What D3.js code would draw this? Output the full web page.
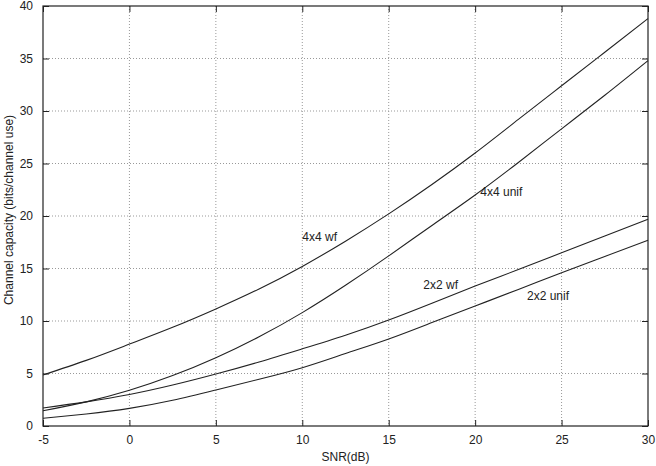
<!DOCTYPE html>
<html>
<head>
<meta charset="utf-8">
<script src="https://cdn.jsdelivr.net/npm/d3@7"></script>
<style>
  body { margin: 0; background: #fff; }
  svg text { font-family: "Liberation Sans", Arial, sans-serif; font-size: 12px; fill: #222; }
</style>
</head>
<body>
<div id="chart"></div>
<script>
// SNR grid (dB) and read-off capacities (bits/channel use)
const snr = [-5, -2.5, 0, 2.5, 5, 7.5, 10, 12.5, 15, 17.5, 20, 22.5, 25, 27.5, 30];
const cap4x4wf   = [4.86, 6.25, 7.8, 9.4, 11.15, 13.05, 15.2, 17.6, 20.2, 23.0, 26.0, 29.2, 32.4, 35.6, 38.8];
const cap4x4unif = [1.45, 2.3, 3.4, 4.8, 6.5, 8.5, 10.8, 13.4, 16.2, 19.1, 22.0, 25.1, 28.3, 31.5, 34.8];
const cap2x2wf   = [1.72, 2.3, 3.0, 3.9, 4.95, 6.1, 7.35, 8.65, 10.1, 11.7, 13.33, 14.9, 16.5, 18.1, 19.7];
const cap2x2unif = [0.73, 1.15, 1.68, 2.45, 3.43, 4.45, 5.55, 6.9, 8.29, 9.85, 11.43, 13.0, 14.6, 16.15, 17.7];

const seriesNames = ["4x4 wf", "4x4 unif", "2x2 wf", "2x2 unif"];
// label anchor in data units [snr, capacity]
const labelAt = [[10.0, 17.6], [20.3, 21.9], [17.0, 13.05], [23.0, 12.0]];

const xTicks = [-5, 0, 5, 10, 15, 20, 25, 30];
const yTicks = [0, 5, 10, 15, 20, 25, 30, 35, 40];

const width = 656, height = 466;
const margin = { left: 43, right: 8, top: 6, bottom: 40 };
const innerWidth = width - margin.left - margin.right,
      innerHeight = height - margin.top - margin.bottom;

const svg = d3.select("#chart").append("svg")
    .attr("width", width)
    .attr("height", height);

const g = svg.append("g")
    .attr("transform", "translate(" + margin.left + "," + margin.top + ")");

const xScale = d3.scaleLinear().domain([-5, 30]).range([0, innerWidth]);
const yScale = d3.scaleLinear().domain([0, 40]).range([innerHeight, 0]);

// dotted grid
g.append("g").selectAll("line")
    .data(xTicks.slice(1, -1))
    .enter().append("line")
    .attr("x1", d => xScale(d)).attr("x2", d => xScale(d))
    .attr("y1", 0).attr("y2", innerHeight)
    .attr("stroke", "#999").attr("stroke-dasharray", "1,2");

g.append("g").selectAll("line")
    .data(yTicks.slice(1, -1))
    .enter().append("line")
    .attr("y1", d => yScale(d)).attr("y2", d => yScale(d))
    .attr("x1", 0).attr("x2", innerWidth)
    .attr("stroke", "#999").attr("stroke-dasharray", "1,2");

// axes, ticks pointing inward like gnuplot
const fmt = d => String(d); // plain hyphen minus
const xAxis = g.append("g")
    .attr("transform", "translate(0," + innerHeight + ")")
    .call(d3.axisBottom(xScale).tickValues(xTicks).tickFormat(fmt).tickSizeInner(-6).tickSizeOuter(0).tickPadding(9));
const xTop = g.append("g")
    .call(d3.axisTop(xScale).tickValues(xTicks).tickSizeInner(-6).tickSizeOuter(0));
const yAxis = g.append("g")
    .call(d3.axisLeft(yScale).tickValues(yTicks).tickFormat(fmt).tickSizeInner(-6).tickSizeOuter(0).tickPadding(10));
const yRight = g.append("g")
    .attr("transform", "translate(" + innerWidth + ",0)")
    .call(d3.axisRight(yScale).tickValues(yTicks).tickSizeInner(-6).tickSizeOuter(0));

xTop.selectAll("text").remove();
yRight.selectAll("text").remove();

[xAxis, xTop, yAxis, yRight].forEach(a => {
    a.select(".domain").remove();
    a.selectAll("line").attr("stroke", "#222");
    a.selectAll("text").attr("font-size", 12).attr("font-family", "Liberation Sans, Arial, sans-serif").attr("fill", "#222");
});

// frame
g.append("rect")
    .attr("width", innerWidth).attr("height", innerHeight)
    .attr("fill", "none").attr("stroke", "#222").attr("stroke-width", 1.2);

// curves
const allSeries = [cap4x4wf, cap4x4unif, cap2x2wf, cap2x2unif];
const line = d3.line()
    .x((d, i) => xScale(snr[i]))
    .y(d => yScale(d))
    .curve(d3.curveNatural);

g.selectAll(".curve")
    .data(allSeries)
    .enter().append("path")
    .attr("class", "curve")
    .attr("d", line)
    .attr("fill", "none")
    .attr("stroke", "#222")
    .attr("stroke-width", 1.1);

// curve labels
g.selectAll(".lbl")
    .data(seriesNames)
    .enter().append("text")
    .attr("class", "lbl")
    .attr("x", (d, i) => xScale(labelAt[i][0]))
    .attr("y", (d, i) => yScale(labelAt[i][1]))
    .text(d => d);

// axis titles
svg.append("text")
    .attr("x", margin.left + innerWidth / 2)
    .attr("y", 461)
    .attr("text-anchor", "middle")
    .text("SNR(dB)");

svg.append("text")
    .attr("transform", "translate(13,210) rotate(-90)")
    .attr("text-anchor", "middle")
    .text("Channel capacity (bits/channel use)");
</script>
</body>
</html>
